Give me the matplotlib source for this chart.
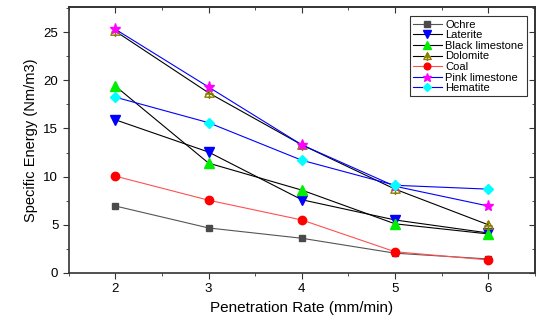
import matplotlib
matplotlib.use("Agg")
import matplotlib.pyplot as plt
from matplotlib.path import Path

plt.rcParams['font.family'] = ['Liberation Sans', 'DejaVu Sans']

rate = [2, 3, 4, 5, 6]
ochre = [6.95, 4.67, 3.6, 2.05, 1.45]
laterite = [15.9, 12.55, 7.6, 5.5, 4.15]
black_limestone = [19.4, 11.4, 8.6, 5.1, 4.05]
dolomite = [25.1, 18.7, 13.3, 8.7, 5.0]
coal = [10.05, 7.55, 5.5, 2.2, 1.35]
pink_limestone = [25.3, 19.3, 13.3, 9.0, 6.95]
hematite = [18.25, 15.6, 11.7, 9.1, 8.7]

# triangle with a cross inside, like the Origin symbol
tri_cross = Path(
    [(-1, -0.8), (1, -0.8), (0, 1), (-1, -0.8), (0, 1), (0, -1.2), (-0.9, -0.1), (0.9, -0.1)],
    [Path.MOVETO, Path.LINETO, Path.LINETO, Path.CLOSEPOLY, Path.MOVETO, Path.LINETO, Path.MOVETO, Path.LINETO])

fig = plt.figure(figsize=(5.37, 3.23), dpi=100)
ax = fig.add_axes([0.128, 0.155, 0.868, 0.823])

ax.plot(rate, ochre, '-', color='#555555', lw=0.8, marker='s', ms=5, mfc='#4a4a4a', mec='#4a4a4a', label='Ochre')
ax.plot(rate, laterite, '-', color='black', lw=0.8, marker='v', ms=7, mfc='blue', mec='blue', label='Laterite')
ax.plot(rate, black_limestone, '-', color='black', lw=0.8, marker='^', ms=7, mfc='#00ee00', mec='#00ee00', label='Black limestone')
ax.plot(rate, dolomite, '-', color='black', lw=0.8, marker=tri_cross, ms=8, mfc='none', mec='#8b8000', mew=1.0, label='Dolomite')
ax.plot(rate, coal, '-', color='#ff5050', lw=0.8, marker='o', ms=6, mfc='red', mec='red', label='Coal')
ax.plot(rate, pink_limestone, '-', color='blue', lw=0.8, marker='*', ms=8, mfc='magenta', mec='magenta', label='Pink limestone')
ax.plot(rate, hematite, '-', color='blue', lw=0.8, marker='D', ms=5, mfc='cyan', mec='cyan', label='Hematite')

ax.set_xlim(1.5, 6.5)
ax.set_ylim(0, 27.6)
ax.set_xticks([2, 3, 4, 5, 6])
ax.set_xticks([1.5, 2.5, 3.5, 4.5, 5.5, 6.5], minor=True)
ax.set_yticks([0, 5, 10, 15, 20, 25])
ax.set_yticks([2.5, 7.5, 12.5, 17.5, 22.5, 27.5], minor=True)
ax.tick_params(which='both', direction='out', top=False, right=False, labelsize=9.5, colors='#333333', labelcolor='black')
ax.tick_params(which='major', length=4)
ax.tick_params(which='minor', length=2.5)

# inward ticks on top and right, no labels
top = ax.secondary_xaxis('top')
top.set_xticks([2, 3, 4, 5, 6], labels=[])
top.set_xticks([1.5, 2.5, 3.5, 4.5, 5.5, 6.5], minor=True)
top.tick_params(which='both', direction='in', colors='#333333')
top.tick_params(which='major', length=4)
top.tick_params(which='minor', length=2.5)
right = ax.secondary_yaxis('right')
right.set_yticks([0, 5, 10, 15, 20, 25], labels=[])
right.set_yticks([2.5, 7.5, 12.5, 17.5, 22.5, 27.5], minor=True)
right.tick_params(which='both', direction='in', colors='#333333')
right.tick_params(which='major', length=4)
right.tick_params(which='minor', length=2.5)
for a in (ax, top, right):
    for sp in a.spines.values():
        sp.set_color('#333333')
        sp.set_linewidth(1.2)

ax.set_xlabel('Penetration Rate (mm/min)', fontsize=11)
ax.set_ylabel('Specific Energy (Nm/m3)', fontsize=10.5)

leg = ax.legend(loc='upper right', bbox_to_anchor=(0.983, 0.965), fontsize=8, frameon=True, fancybox=False,
                edgecolor='black', handlelength=2.6, labelspacing=0.05, borderpad=0.3, handletextpad=0.3,
                borderaxespad=0, markerscale=0.8)
leg.get_frame().set_linewidth(0.8)

fig.savefig('out.png', dpi=100)
